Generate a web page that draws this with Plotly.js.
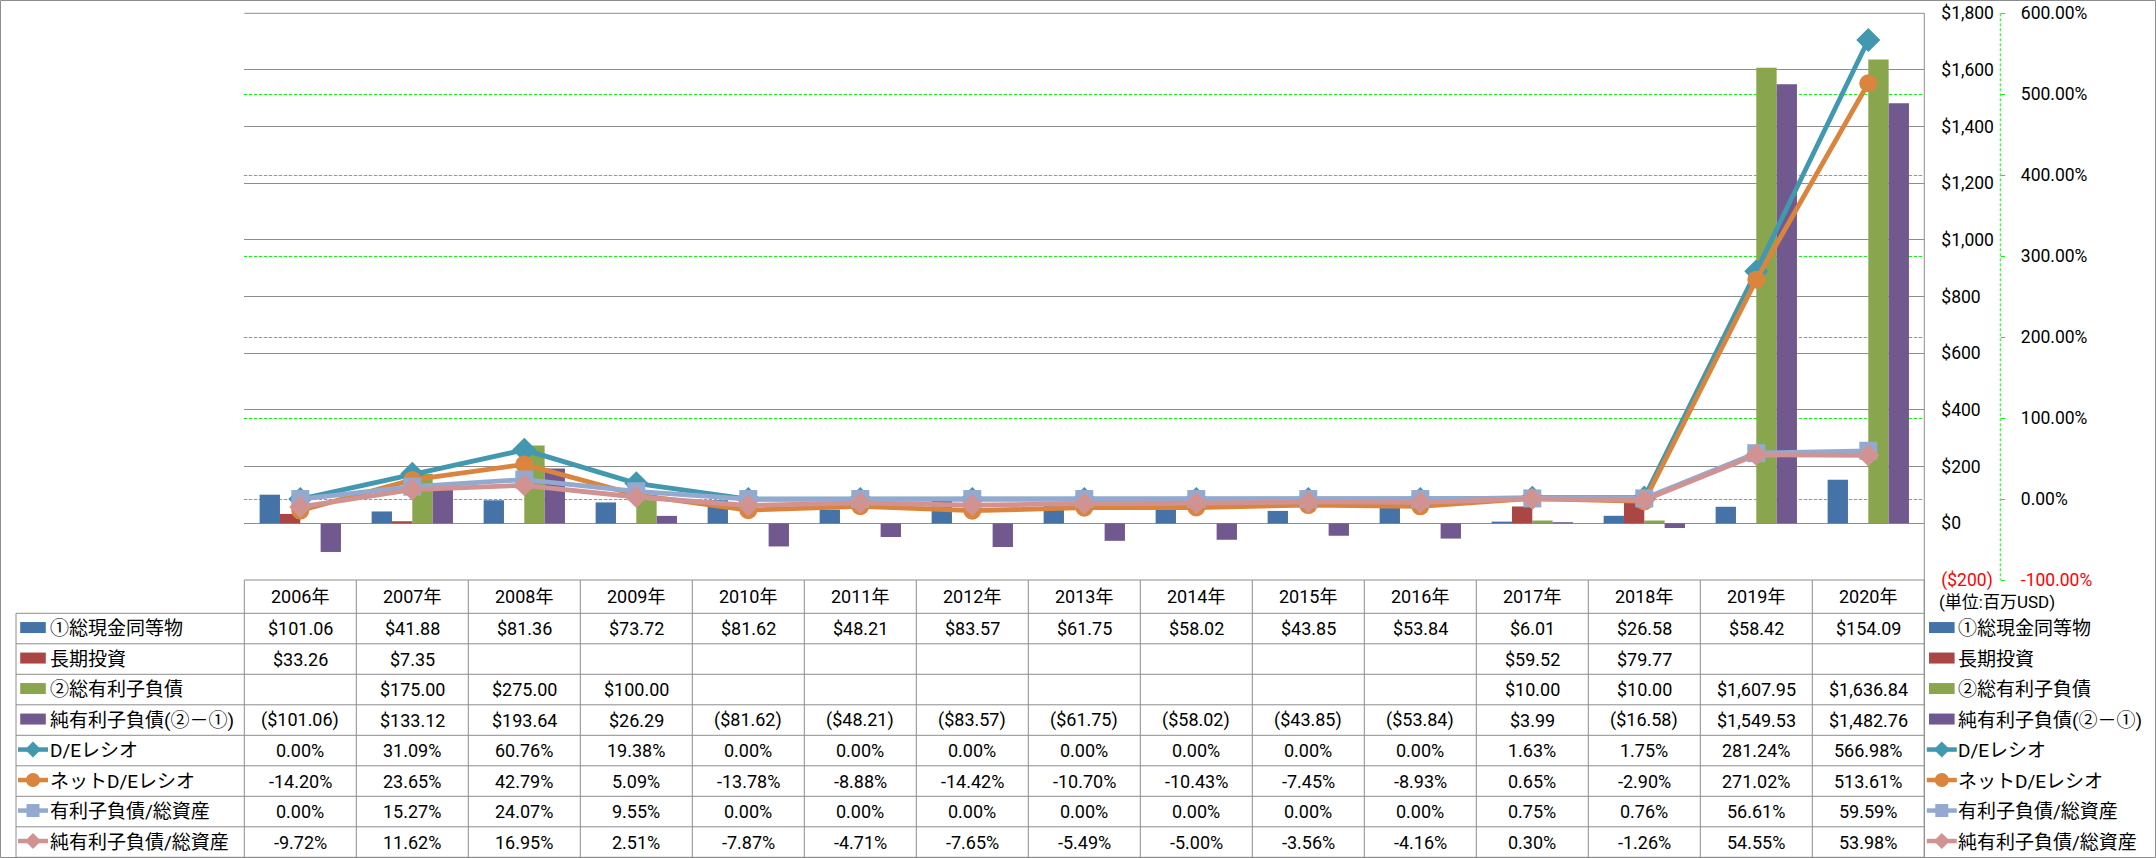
<!DOCTYPE html>
<html><head><meta charset="utf-8">
<script src="https://cdn.plot.ly/plotly-3.0.1.min.js"></script>
<style>html,body{margin:0;padding:0;background:#fff;overflow:hidden}#chart{width:2156px;height:858px}</style>
</head><body><div id="chart"></div>
<script>
// ---------- data ----------
const years = ['2006年','2007年','2008年','2009年','2010年','2011年','2012年','2013年','2014年','2015年','2016年','2017年','2018年','2019年','2020年'];
const cashEq = [101.06, 41.88, 81.36, 73.72, 81.62, 48.21, 83.57, 61.75, 58.02, 43.85, 53.84, 6.01, 26.58, 58.42, 154.09];
const longTermInv = [33.26, 7.35, null, null, null, null, null, null, null, null, null, 59.52, 79.77, null, null];
const totalDebt = [null, 175.00, 275.00, 100.00, null, null, null, null, null, null, null, 10.00, 10.00, 1607.95, 1636.84];
const netDebt = [-101.06, 133.12, 193.64, 26.29, -81.62, -48.21, -83.57, -61.75, -58.02, -43.85, -53.84, 3.99, -16.58, 1549.53, 1482.76];
const deRatio = [0.00, 31.09, 60.76, 19.38, 0.00, 0.00, 0.00, 0.00, 0.00, 0.00, 0.00, 1.63, 1.75, 281.24, 566.98];
const netDeRatio = [-14.20, 23.65, 42.79, 5.09, -13.78, -8.88, -14.42, -10.70, -10.43, -7.45, -8.93, 0.65, -2.90, 271.02, 513.61];
const debtToAssets = [0.00, 15.27, 24.07, 9.55, 0.00, 0.00, 0.00, 0.00, 0.00, 0.00, 0.00, 0.75, 0.76, 56.61, 59.59];
const netDebtToAssets = [-9.72, 11.62, 16.95, 2.51, -7.87, -4.71, -7.65, -5.49, -5.00, -3.56, -4.16, 0.30, -1.26, 54.55, 53.98];
const seriesNames = ['①総現金同等物','長期投資','②総有利子負債','純有利子負債(②－①)','D/Eレシオ','ネットD/Eレシオ','有利子負債/総資産','純有利子負債/総資産'];
const yTickVals = [-200, 0, 200, 400, 600, 800, 1000, 1200, 1400, 1600, 1800];
const y2TickVals = [-100, 0, 100, 200, 300, 400, 500, 600];
const unitLabel = '(単位:百万USD)';

// ---------- style ----------
const W = 2156, H = 858;
const plotL = 244.3, plotR = 1924.3, plotT = 13.3, plotB = 580;
const headB = 613.3, rowH = 30.5, labelL = 16;
const y2AxisX = 2000.3;
const FONT = "Roboto, 'Noto Sans CJK JP', sans-serif";
const GRID = '#8C8C8C';
const colors = ['#4572A7','#AA4643','#89A54E','#71588F','#4198AF','#DB843D','#93A9CF','#D19392'];
const kinds = ['bar','bar','bar','bar','diamond','circle','square','diamond'];

const px = v => v / W;
const py = v => 1 - v / H;

function fmtNum(v, dec) {
  return Math.abs(v).toLocaleString('en-US', {minimumFractionDigits: dec, maximumFractionDigits: dec});
}
function fmtDollar(v, dec) {
  if (v === null || v === undefined) return '';
  const s = '$' + fmtNum(v, dec);
  return v < 0 ? '(' + s + ')' : s;
}
function fmtPct(v) { return v.toFixed(2) + '%'; }

// ---------- traces ----------
const barSeries = [cashEq, longTermInv, totalDebt, netDebt];
const lineSeries = [deRatio, netDeRatio, debtToAssets, netDebtToAssets];
const traces = [];
barSeries.forEach((d, i) => {
  traces.push({type: 'bar', x: years, y: d, name: seriesNames[i], marker: {color: colors[i], line: {width: 0}}, xaxis: 'x', yaxis: 'y'});
});
const symbols = ['diamond', 'circle', 'square', 'diamond'];
const msizes = [18.5, 18, 18, 17];
lineSeries.forEach((d, i) => {
  traces.push({type: 'scatter', mode: 'lines+markers', x: years, y: d, name: seriesNames[4 + i],
    line: {color: colors[4 + i], width: 4.8}, marker: {symbol: symbols[i], size: msizes[i], color: colors[4 + i], line: {width: 0}},
    xaxis: 'x', yaxis: 'y2'});
});

// ---------- shapes ----------
const shapes = [];
const L = (x0, y0, x1, y1, color, width, dash) => shapes.push({type: 'line', xref: 'paper', yref: 'paper', x0: px(x0), y0: py(y0), x1: px(x1), y1: py(y1), line: {color: color, width: width, dash: dash || 'solid'}, layer: 'above'});
// outer border
shapes.push({type: 'rect', xref: 'paper', yref: 'paper', x0: px(0.5), y0: py(857.5), x1: px(2155.5), y1: py(0.5), line: {color: GRID, width: 1}, layer: 'above'});
// top grid line & plot right border
L(plotL, plotT, plotR, plotT, GRID, 1);
L(plotR, plotT, plotR, 857.5, GRID, 1);
// secondary axis dashed line
L(y2AxisX, plotT, y2AxisX, plotB, '#00FF00', 1, '3px,2px');
// table
L(plotL, plotB, plotR, plotB, GRID, 1);
const nRows = 8;
for (let j = 0; j <= years.length; j++) {
  const x = plotL + j * (plotR - plotL) / years.length;
  L(x, plotB, x, headB + nRows * rowH, GRID, 1);
}
for (let i = 0; i <= nRows; i++) {
  const y = headB + i * rowH;
  L(labelL, y, plotR, y, GRID, 1);
}
L(labelL, headB, labelL, headB + nRows * rowH, GRID, 1);

// legend keys
function key(kind, color, cx, cy) {
  if (kind === 'bar') {
    shapes.push({type: 'rect', xref: 'paper', yref: 'paper', x0: px(cx - 12.8), x1: px(cx + 12.8), y0: py(cy + 5.5), y1: py(cy - 5.5), fillcolor: color, line: {width: 0}, layer: 'above'});
    return;
  }
  L(cx - 15, cy, cx + 15, cy, color, 4.5);
  if (kind === 'circle') {
    shapes.push({type: 'circle', xref: 'paper', yref: 'paper', x0: px(cx - 7), x1: px(cx + 7), y0: py(cy + 7), y1: py(cy - 7), fillcolor: color, line: {width: 0}, layer: 'above'});
  } else if (kind === 'square') {
    shapes.push({type: 'rect', xref: 'paper', yref: 'paper', x0: px(cx - 6.5), x1: px(cx + 6.5), y0: py(cy + 6.5), y1: py(cy - 6.5), fillcolor: color, line: {width: 0}, layer: 'above'});
  } else {
    const r = 8;
    shapes.push({type: 'path', xref: 'paper', yref: 'paper',
      path: `M ${px(cx - r)} ${py(cy)} L ${px(cx)} ${py(cy - r)} L ${px(cx + r)} ${py(cy)} L ${px(cx)} ${py(cy + r)} Z`,
      fillcolor: color, line: {width: 0}, layer: 'above'});
  }
}

// ---------- annotations ----------
const ann = [];
const rowCenter = i => headB + (i + 0.5) * rowH;
years.forEach((yr, j) => {
  ann.push({xref: 'x', yref: 'paper', x: j, y: py((plotB + headB) / 2), text: yr, showarrow: false, xanchor: 'center', yanchor: 'middle', font: {size: 18, color: '#000'}});
});
const rowData = [cashEq, longTermInv, totalDebt, netDebt, deRatio, netDeRatio, debtToAssets, netDebtToAssets];
rowData.forEach((d, i) => {
  const cy = rowCenter(i);
  d.forEach((v, j) => {
    const t = i < 4 ? fmtDollar(v, 2) : fmtPct(v);
    if (t) ann.push({xref: 'x', yref: 'paper', x: j, y: py(cy), text: t, showarrow: false, xanchor: 'center', yanchor: 'middle', font: {size: 18, color: '#000'}});
  });
  // left label
  key(kinds[i], colors[i], 33, cy - 1);
  ann.push({xref: 'paper', yref: 'paper', x: px(48), y: py(cy), text: seriesNames[i], showarrow: false, xanchor: 'left', yanchor: 'middle', font: {size: 19, color: '#000'}});
  // right legend
  key(kinds[i], colors[i], 1941.8, cy - 1);
  ann.push({xref: 'paper', yref: 'paper', x: px(1956), y: py(cy), text: seriesNames[i], showarrow: false, xanchor: 'left', yanchor: 'middle', font: {size: 19, color: '#000'}});
});
ann.push({xref: 'paper', yref: 'paper', x: px(1937), y: py(601.7), text: unitLabel, showarrow: false, xanchor: 'left', yanchor: 'middle', font: {size: 17, color: '#000'}});

// ---------- layout ----------
const yTickText = yTickVals.map(v => v < 0 ? '<span style="color:#FF0000">' + fmtDollar(v, 0) + '</span>' : fmtDollar(v, 0));
const y2TickText = y2TickVals.map(v => v < 0 ? '<span style="color:#FF0000">' + fmtPct(v) + '</span>' : fmtPct(v));

const layout = {
  width: W, height: H, autosize: false,
  margin: {l: 0, r: 0, t: 0, b: 0, pad: 0},
  paper_bgcolor: '#FFFFFF', plot_bgcolor: 'rgba(0,0,0,0)',
  showlegend: false,
  barmode: 'group', bargap: 0.274, bargroupgap: 0,
  font: {family: FONT, size: 18, color: '#000'},
  xaxis: {domain: [px(plotL), px(plotR)], type: 'category', range: [-0.5, years.length - 0.5], showticklabels: false, ticks: '', showgrid: false, zeroline: false, showline: false, fixedrange: true},
  yaxis: {domain: [py(plotB), py(plotT)], range: [-200, 1800], side: 'right', tickmode: 'array', tickvals: yTickVals, ticktext: yTickText,
    ticks: '', showgrid: true, gridcolor: GRID, gridwidth: 1, zeroline: true, zerolinecolor: GRID, zerolinewidth: 1, showline: false,
    ticklabelstandoff: 16, tickfont: {size: 17.5, color: '#000'}, fixedrange: true},
  yaxis2: {overlaying: 'y', anchor: 'free', position: px(y2AxisX), side: 'right', range: [-100, 600], tickmode: 'array', tickvals: y2TickVals, ticktext: y2TickText,
    ticks: 'outside', ticklen: 4, tickcolor: '#00FF00', tickwidth: 1, showgrid: true, gridcolor: '#00FF00', griddash: '3px,2px', gridwidth: 1,
    zeroline: false, showline: false, ticklabelstandoff: 12, tickfont: {size: 17.5, color: '#000'}, fixedrange: true},
  shapes: shapes,
  annotations: ann
};

Plotly.newPlot('chart', traces, layout, {staticPlot: true, displayModeBar: false});
</script></body></html>
